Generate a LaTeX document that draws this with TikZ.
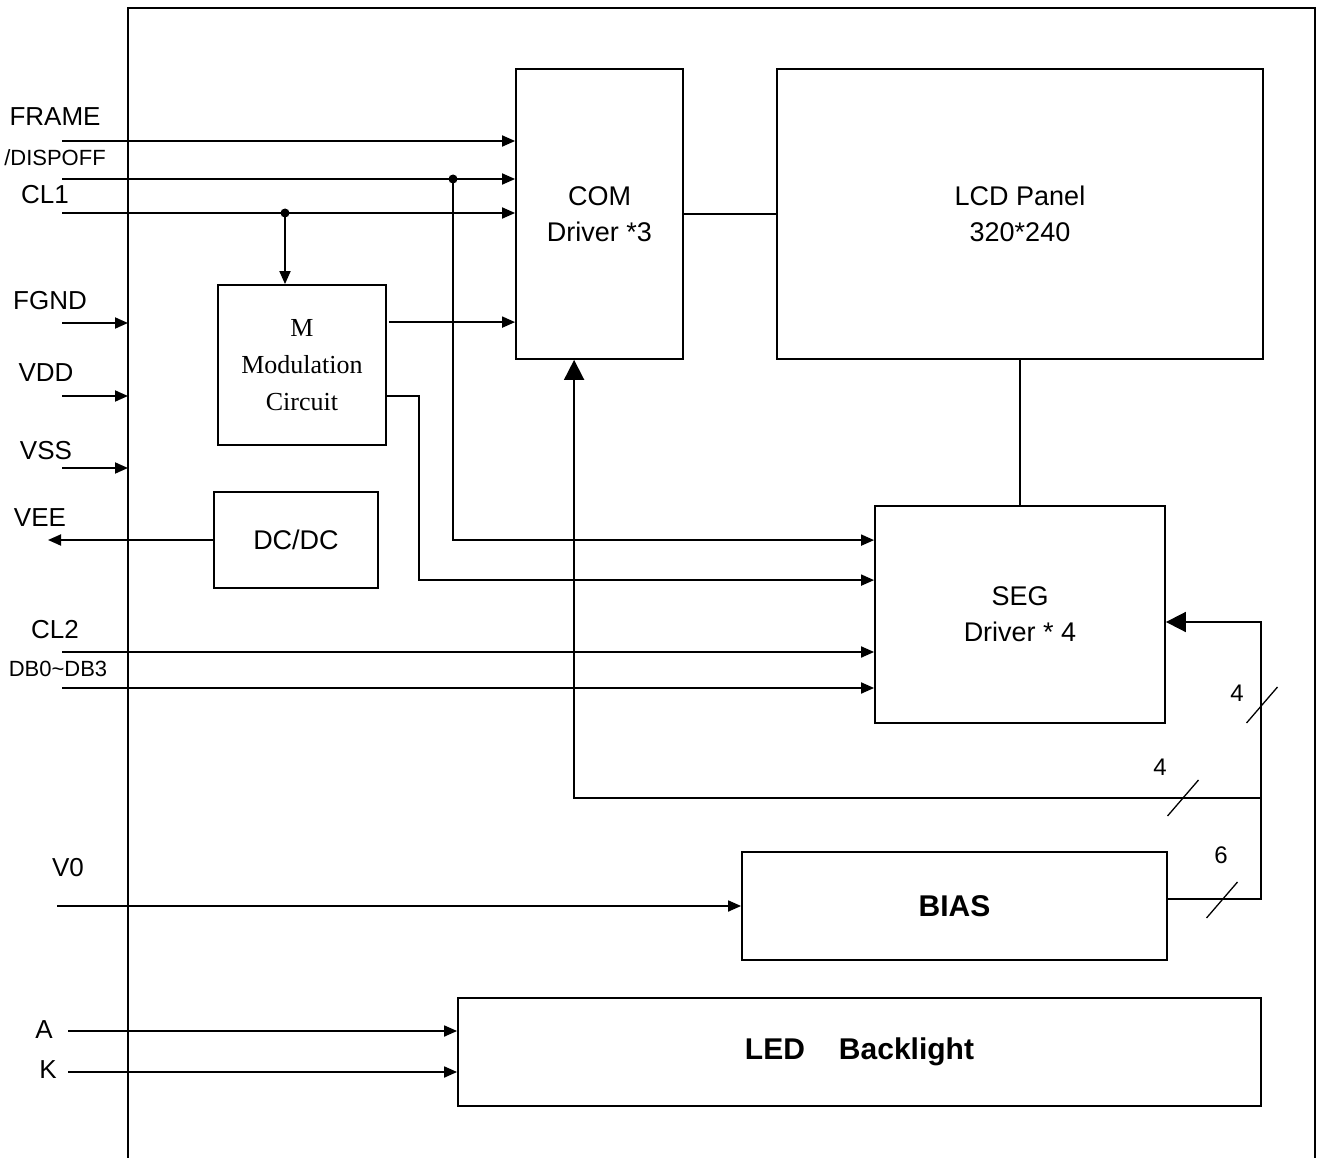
\documentclass[tikz,border=0pt]{standalone}
\usepackage{fontspec}
\setmainfont{Liberation Sans}
\newfontfamily\modfont{Liberation Serif}
\usetikzlibrary{arrows.meta,positioning,calc}

\begin{document}
\begin{tikzpicture}[
  x=1pt, y=-1pt,
  box/.style={draw, line width=1.8pt, align=center, inner sep=0pt,
              font=\fontsize{27}{36}\selectfont},
  bold/.style={font=\fontsize{30}{36}\selectfont\bfseries},
  sig/.style={font=\fontsize{26}{28}\selectfont, inner sep=0pt},
  narrow/.style={font=\fontsize{22}{24}\selectfont, inner sep=0pt},
  wire/.style={line width=1.8pt},
  arr/.style={wire, -{Triangle[length=13pt,width=11pt]}},
  bigarr/.style={wire, -{Triangle[length=20pt,width=20pt]}},
  tap/.style={circle, fill, inner sep=0pt, minimum size=9pt},
  bus/.style={line width=1.3pt},
  num/.style={font=\fontsize{24}{26}\selectfont, inner sep=0pt}
]
\useasboundingbox (0,0) rectangle (1317,1158);

% module frame, open at the bottom
\coordinate (frame-sw) at (128,1158);
\coordinate (frame-ne) at (1315,8);
\draw[wire] (frame-sw) |- (frame-ne) -- (frame-ne |- frame-sw);

% blocks
\node[box, minimum width=167pt, minimum height=290pt] (com) at (599.5,214) {COM\\Driver *3};
\node[box, minimum width=486pt, minimum height=290pt] (lcd) at (1020,214) {LCD Panel\\320*240};
\node[box, minimum width=168pt, minimum height=160pt,
      font=\modfont\fontsize{26}{37}\selectfont] (mod) at (302,365) {M\\Modulation\\Circuit};
\node[box, minimum width=164pt, minimum height=96pt] (dcdc) at (296,540) {DC/DC};
\node[box, minimum width=290pt, minimum height=217pt] (seg) at (1020,614.5) {SEG\\Driver * 4};
\node[box, bold, minimum width=425pt, minimum height=108pt] (bias) at (954.5,906) {BIAS};
\node[box, bold, minimum width=803pt, minimum height=108pt] (led) at (859.5,1052) {LED\hspace{34pt}Backlight};

% signal names
\node[sig] (l-frame) at (55,117) {FRAME};
\node[narrow] (l-disp) at (55,158) {/DISPOFF};
\node[sig] (l-cl1) at (45,195) {CL1};
\node[sig] (l-fgnd) at (50,301) {FGND};
\node[sig] (l-vdd) at (46,373) {VDD};
\node[sig] (l-vss) at (46,451) {VSS};
\node[sig] (l-vee) at (40,518) {VEE};
\node[sig] (l-cl2) at (55,630) {CL2};
\node[narrow] (l-db) at (58,669) {DB0\textasciitilde DB3};
\node[sig] (l-v0) at (68,868) {V0};
\node[sig] (l-a) at (44,1030) {A};
\node[sig] (l-k) at (48,1070) {K};

% line starts
\coordinate (in-frame) at (62,141);
\coordinate (in-disp) at (62,179);
\coordinate (in-cl1) at (62,213);
\coordinate (in-fgnd) at (62,323);
\coordinate (in-vdd) at (62,396);
\coordinate (in-vss) at (62,468);
\coordinate (out-vee) at (48,540);
\coordinate (in-cl2) at (62,652);
\coordinate (in-db) at (62,688);
\coordinate (in-v0) at (57,906);
\coordinate (in-a) at (68,1031);
\coordinate (in-k) at (68,1072);

% control inputs to COM
\draw[arr] (in-frame) -- (in-frame -| com.west);
\draw[arr] (in-disp) -- (in-disp -| com.west);
\draw[arr] (in-cl1) -- (in-cl1 -| com.west);
\node[tap] (tap-disp) at (453,179) {};
\node[tap] (tap-cl1) at (285,213) {};
\draw[arr] (tap-cl1.center) -- (tap-cl1 |- mod.north);

% M circuit outputs
\coordinate (mod-o1) at ($(mod.north east)+(2,38)$);
\coordinate (mod-o2) at ($(mod.north east)+(0,112)$);
\coordinate (seg-i1) at ($(seg.north west)+(0,35)$);
\coordinate (seg-i2) at ($(seg.north west)+(0,75)$);
\draw[arr] (mod-o1) -- (mod-o1 -| com.west);
\draw[arr] (tap-disp.center) |- (seg-i1);
\draw[arr] (mod-o2) -- ++(32,0) |- (seg-i2);

\draw[wire] (com) -- (lcd);
\draw[wire] (lcd) -- (seg);

% supplies
\draw[arr] (in-fgnd) -- (in-fgnd -| frame-sw);
\draw[arr] (in-vdd) -- (in-vdd -| frame-sw);
\draw[arr] (in-vss) -- (in-vss -| frame-sw);
\draw[arr] (dcdc.west) -- (dcdc.west -| out-vee);

% data to SEG
\draw[arr] (in-cl2) -- (in-cl2 -| seg.west);
\draw[arr] (in-db) -- (in-db -| seg.west);

% bias and backlight
\draw[arr] (in-v0) -- (in-v0 -| bias.west);
\draw[arr] (in-a) -- (in-a -| led.west);
\draw[arr] (in-k) -- (in-k -| led.west);

% bias bus
\coordinate (bias-o) at ($(bias.north east)+(0,48)$);
\coordinate (bus-top) at (1261,622);
\coordinate (bus-j) at (1261,798);
\coordinate (com-i) at ($(com.south west)+(59,0)$);
\draw[bigarr] (bias-o) -| (bus-top) -- (bus-top -| seg.east);
\draw[bigarr] (bus-j) -| (com-i);

\coordinate (s-seg) at (1262,705);
\coordinate (s-com) at (1183,798);
\coordinate (s-bias) at (1222,900);
\draw[bus] (s-seg) ++(-15.5,18) -- ++(31,-36);
\draw[bus] (s-com) ++(-15.5,18) -- ++(31,-36);
\draw[bus] (s-bias) ++(-15.5,18) -- ++(31,-36);
\node[num] (n-seg) at (1237,693) {4};
\node[num] (n-com) at (1160,767) {4};
\node[num] (n-bias) at (1221,855) {6};
\end{tikzpicture}
\end{document}
